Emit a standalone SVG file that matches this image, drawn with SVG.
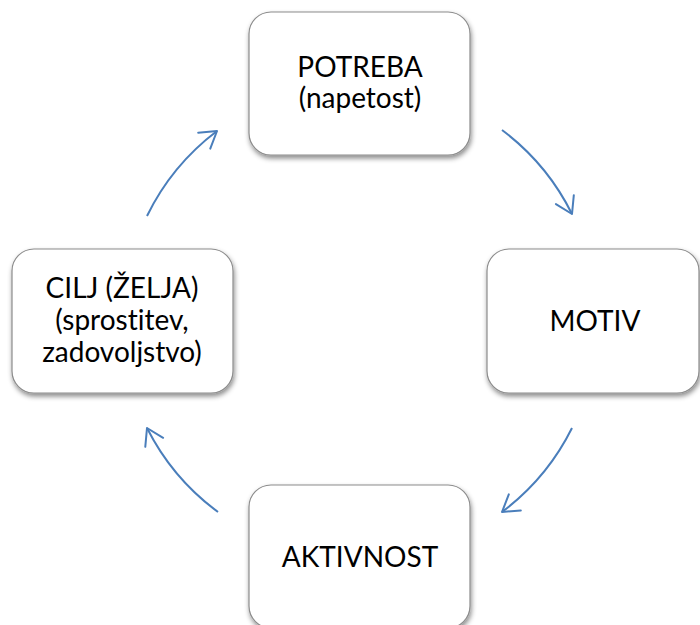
<svg xmlns="http://www.w3.org/2000/svg" width="700" height="625" viewBox="0 0 700 625">
<defs>
<filter id="sh" x="-10%" y="-10%" width="125%" height="130%">
<feDropShadow dx="1" dy="3" stdDeviation="2.5" flood-color="#000" flood-opacity="0.45"/>
</filter>
<marker id="ah" markerUnits="userSpaceOnUse" markerWidth="40" markerHeight="40" viewBox="-20 -20 40 40" refX="0" refY="0" orient="auto">
<path d="M-16,-10 L0,0 L-16,10" fill="none" stroke="#4a7ebb" stroke-width="2" stroke-linecap="round" stroke-linejoin="round"/>
</marker>
<style>
.box{fill:#fff;stroke:#8c8c8c;stroke-width:1.2;filter:url(#sh)}
.t{font-family:Lato,"Liberation Sans",sans-serif;font-size:28px;fill:#000;text-anchor:middle;font-variant-ligatures:none}
.c{fill:none;stroke:#4a7ebb;stroke-width:2;marker-end:url(#ah)}
</style>
</defs>
<rect width="700" height="625" fill="#fff"/>
<g id="potreba">
<rect class="box" x="249" y="12" width="221" height="143" rx="22"/>
<text class="t" x="360" y="77">POTREBA</text>
<text class="t" x="360" y="108">(napetost)</text>
</g>
<g id="motiv">
<rect class="box" x="487" y="249" width="212" height="144" rx="22"/>
<text class="t" x="595" y="331">MOTIV</text>
</g>
<g id="aktivnost">
<rect class="box" x="249" y="485" width="221" height="143" rx="22"/>
<text class="t" x="360" y="567">AKTIVNOST</text>
</g>
<g id="cilj">
<rect class="box" x="12" y="249" width="221" height="144" rx="22"/>
<text class="t" x="122" y="298">CILJ (ŽELJA)</text>
<text class="t" x="122" y="330">(sprostitev,</text>
<text class="t" x="122" y="362">zadovoljstvo)</text>
</g>
<g id="connectors">
<path class="c" d="M147,216 A237,237 0 0 1 217,131"/>
<path class="c" d="M502,130 A237,237 0 0 1 572,214"/>
<path class="c" d="M572,428 A237,237 0 0 1 502,512"/>
<path class="c" d="M218,512 A237,237 0 0 1 147,428"/>
</g>
</svg>
